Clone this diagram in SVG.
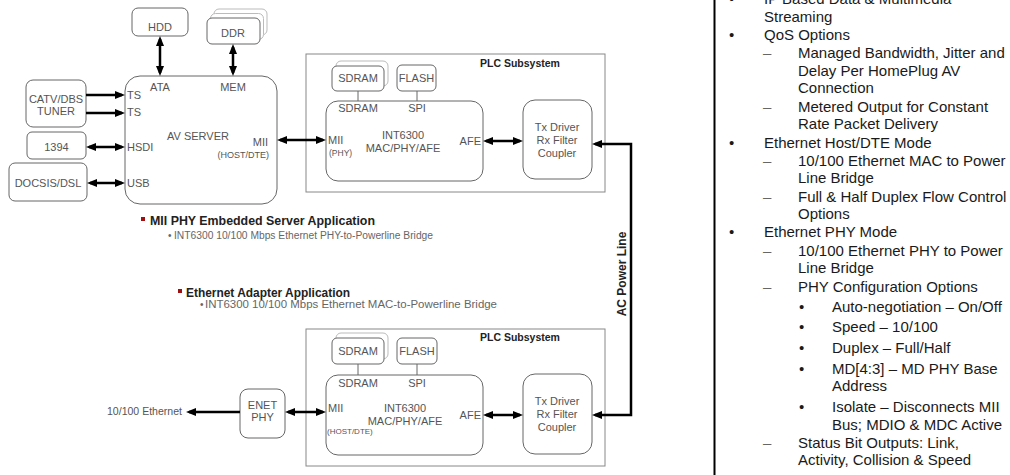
<svg xmlns="http://www.w3.org/2000/svg" width="1010" height="475" viewBox="0 0 1010 475">
<defs>
<style>
.bx{fill:#fff;stroke:#666;stroke-width:1}
.bk{fill:#fff;stroke:#bbb;stroke-width:1}
.plc{fill:#fff;stroke:#888;stroke-width:1}
.t{font-family:"Liberation Sans",Arial,sans-serif;font-size:11px;fill:#555}
.c{text-anchor:middle}
.e{text-anchor:end}
.s{font-size:8.5px}
.b{font-weight:bold;fill:#222}
.h{font-family:"Liberation Sans",Arial,sans-serif;font-size:12px;font-weight:bold;fill:#222}
.sub{font-family:"Liberation Sans",Arial,sans-serif;font-size:10px;fill:#666}
.r{font-family:"Liberation Sans",Arial,sans-serif;font-size:15px;fill:#1a1a1a}
.d{fill:#666}
.ln{fill:none;stroke:#000;stroke-width:2.5}
</style>
<marker id="ah" viewBox="0 0 10 8" refX="7" refY="4" markerWidth="10" markerHeight="8" markerUnits="userSpaceOnUse" orient="auto-start-reverse"><path d="M0,0 L10,4 L0,8 z" fill="#000"/></marker>
</defs>
<rect width="1010" height="475" fill="#fff"/>

<g id="hdd"><rect class="bx" x="132" y="8" width="56" height="28" rx="6"/><text class="t c" x="160" y="31">HDD</text></g>
<g id="ddr">
<rect class="bk" x="214" y="9" width="53" height="26" rx="5"/>
<rect class="bk" x="210.5" y="13.5" width="53" height="26" rx="5"/>
<rect class="bx" x="207" y="18" width="53" height="26" rx="5"/><text class="t c" x="233" y="37">DDR</text></g>
<g id="tuner"><rect class="bx" x="26" y="80" width="60" height="47" rx="7"/><text class="t c" x="56" y="103">CATV/DBS</text><text class="t c" x="56" y="115">TUNER</text></g>
<g id="n1394"><rect class="bx" x="27" y="132" width="59" height="27" rx="5"/><text class="t c" x="56.5" y="151">1394</text></g>
<g id="docsis"><rect class="bx" x="9" y="163" width="78" height="38" rx="6"/><text class="t c" x="48" y="187">DOCSIS/DSL</text></g>
<g id="avserver"><rect class="bx" x="125" y="76" width="152" height="128" rx="15"/>
<text class="t c" x="160" y="91">ATA</text><text class="t c" x="233" y="91">MEM</text>
<text class="t" x="127" y="99">TS</text><text class="t" x="127" y="116">TS</text>
<text class="t" x="127" y="151">HSDI</text><text class="t" x="127" y="187">USB</text>
<text class="t c" x="198" y="140">AV SERVER</text>
<text class="t e" x="268" y="146">MII</text><text class="t e" x="269" y="158" style="font-size:9px">(HOST/DTE)</text></g>

<g id="plc-top"><rect class="plc" x="306" y="54" width="299" height="138"/>
<text class="t b c" x="520" y="67" style="font-size:10.5px">PLC Subsystem</text></g>
<g id="sdram-top"><rect class="bk" x="336" y="61" width="52" height="25" rx="5"/><rect class="bx" x="332" y="66" width="52" height="25" rx="5"/><text class="t c" x="358" y="82">SDRAM</text></g>
<g id="flash-top"><rect class="bx" x="397" y="65" width="39" height="26" rx="5"/><text class="t c" x="416.5" y="82">FLASH</text></g>
<g id="int-top"><rect class="bx" x="326" y="101" width="157" height="80" rx="12"/>
<text class="t c" x="358" y="112">SDRAM</text><text class="t c" x="417" y="112">SPI</text>
<text class="t" x="328" y="144">MII</text><text class="t s" x="329" y="156">(PHY)</text>
<text class="t c" x="403" y="139">INT6300</text><text class="t c" x="403" y="152">MAC/PHY/AFE</text>
<text class="t e" x="481" y="145">AFE</text></g>
<g id="tx-top"><rect class="bx" x="523" y="100" width="69" height="79" rx="12"/>
<text class="t c" x="557" y="131">Tx Driver</text><text class="t c" x="557" y="144">Rx Filter</text><text class="t c" x="557" y="157">Coupler</text></g>

<g id="plc-bot"><rect class="plc" x="306" y="329" width="299" height="137"/>
<text class="t b c" x="520" y="341" style="font-size:10.5px">PLC Subsystem</text></g>
<g id="sdram-bot"><rect class="bk" x="336" y="333" width="52" height="26" rx="5"/><rect class="bx" x="332" y="338" width="52" height="26" rx="5"/><text class="t c" x="358" y="355">SDRAM</text></g>
<g id="flash-bot"><rect class="bx" x="397" y="338" width="40" height="26" rx="5"/><text class="t c" x="417" y="355">FLASH</text></g>
<g id="int-bot"><rect class="bx" x="326" y="375" width="157" height="80" rx="12"/>
<text class="t c" x="358" y="387">SDRAM</text><text class="t c" x="417" y="387">SPI</text>
<text class="t" x="328" y="412">MII</text><text class="t" x="327" y="434" style="font-size:8px">(HOST/DTE)</text>
<text class="t c" x="405" y="412">INT6300</text><text class="t c" x="405" y="425">MAC/PHY/AFE</text>
<text class="t e" x="481" y="419">AFE</text></g>
<g id="tx-bot"><rect class="bx" x="523" y="374" width="69" height="80" rx="12"/>
<text class="t c" x="557" y="405">Tx Driver</text><text class="t c" x="557" y="418">Rx Filter</text><text class="t c" x="557" y="431">Coupler</text></g>
<g id="enet"><rect class="bx" x="240" y="389" width="45" height="49" rx="8"/><text class="t c" x="262.5" y="409">ENET</text><text class="t c" x="262.5" y="421">PHY</text></g>
<g id="ethernet"><text class="t" x="107" y="415" style="font-size:10.5px" textLength="75" lengthAdjust="spacingAndGlyphs">10/100 Ethernet</text></g>

<g id="connectors">
<line x1="358" y1="91" x2="358" y2="101" stroke="#666"/>
<line x1="417" y1="91" x2="417" y2="101" stroke="#666"/>
<line x1="358" y1="364" x2="358" y2="375" stroke="#666"/>
<line x1="417" y1="364" x2="417" y2="375" stroke="#666"/>
<path class="ln" d="M160,39 V73" marker-start="url(#ah)" marker-end="url(#ah)"/>
<path class="ln" d="M233,47 V73" marker-start="url(#ah)" marker-end="url(#ah)"/>
<path class="ln" d="M86,95 H122" marker-end="url(#ah)"/>
<path class="ln" d="M86,113 H122" marker-end="url(#ah)"/>
<path class="ln" d="M89,147 H122" marker-start="url(#ah)" marker-end="url(#ah)"/>
<path class="ln" d="M90,183 H122" marker-start="url(#ah)" marker-end="url(#ah)"/>
<path class="ln" d="M280,140 H323" marker-start="url(#ah)" marker-end="url(#ah)"/>
<path class="ln" d="M486,141 H520" marker-start="url(#ah)" marker-end="url(#ah)"/>
<path class="ln" d="M595,144 H631 V415 H595" marker-start="url(#ah)" marker-end="url(#ah)"/>
<path class="ln" d="M486,415 H520" marker-start="url(#ah)" marker-end="url(#ah)"/>
<path class="ln" d="M288,412 H323" marker-start="url(#ah)" marker-end="url(#ah)"/>
<path class="ln" d="M240,412 H189" marker-end="url(#ah)"/>
<text x="626" y="274" transform="rotate(-90 626 274)" text-anchor="middle" style="font-family:'Liberation Sans',Arial,sans-serif;font-size:12px;font-weight:bold;fill:#222">AC Power Line</text>
</g>

<g id="captions">
<rect x="141" y="217" width="4" height="4" fill="#a01010"/>
<text class="h" x="150" y="225" textLength="225" lengthAdjust="spacingAndGlyphs">MII PHY Embedded Server Application</text>
<text class="sub" x="168" y="239">•</text>
<text class="sub" x="174" y="239" textLength="259" lengthAdjust="spacingAndGlyphs">INT6300 10/100 Mbps Ethernet PHY-to-Powerline Bridge</text>
<rect x="178" y="289" width="4" height="4" fill="#a01010"/>
<text class="h" x="186" y="297" textLength="164" lengthAdjust="spacingAndGlyphs">Ethernet Adapter Application</text>
<text class="sub" x="200" y="308">•</text>
<text class="sub" x="205" y="308" textLength="292" lengthAdjust="spacingAndGlyphs">INT6300 10/100 Mbps Ethernet MAC-to-Powerline Bridge</text>
</g>

<g id="features">
<line x1="714.5" y1="0" x2="714.5" y2="475" stroke="#000" stroke-width="2"/>
<text class="r" x="729" y="4">•</text><text class="r" x="764" y="4">IP Based Data &amp; Multimedia</text>
<text class="r" x="764" y="22">Streaming</text>
<text class="r" x="729" y="40">•</text><text class="r" x="764" y="40">QoS Options</text>
<text class="r d" x="763" y="58">–</text><text class="r" x="798" y="58">Managed Bandwidth, Jitter and</text>
<text class="r" x="798" y="76">Delay Per HomePlug AV</text>
<text class="r" x="798" y="93">Connection</text>
<text class="r d" x="763" y="112">–</text><text class="r" x="798" y="112">Metered Output for Constant</text>
<text class="r" x="798" y="129">Rate Packet Delivery</text>
<text class="r" x="729" y="148">•</text><text class="r" x="764" y="148">Ethernet Host/DTE Mode</text>
<text class="r d" x="763" y="166">–</text><text class="r" x="798" y="166">10/100 Ethernet MAC to Power</text>
<text class="r" x="798" y="183">Line Bridge</text>
<text class="r d" x="763" y="202">–</text><text class="r" x="798" y="202">Full &amp; Half Duplex Flow Control</text>
<text class="r" x="798" y="219">Options</text>
<text class="r" x="729" y="237">•</text><text class="r" x="764" y="237">Ethernet PHY Mode</text>
<text class="r d" x="763" y="256">–</text><text class="r" x="798" y="256">10/100 Ethernet PHY to Power</text>
<text class="r" x="798" y="273">Line Bridge</text>
<text class="r d" x="763" y="292">–</text><text class="r" x="798" y="292">PHY Configuration Options</text>
<text class="r" x="799" y="312">•</text><text class="r" x="832" y="312">Auto-negotiation – On/Off</text>
<text class="r" x="799" y="332">•</text><text class="r" x="832" y="332">Speed – 10/100</text>
<text class="r" x="799" y="353">•</text><text class="r" x="832" y="353">Duplex – Full/Half</text>
<text class="r" x="799" y="374">•</text><text class="r" x="832" y="374">MD[4:3] – MD PHY Base</text>
<text class="r" x="832" y="391">Address</text>
<text class="r" x="799" y="412">•</text><text class="r" x="832" y="412">Isolate – Disconnects MII</text>
<text class="r" x="832" y="430">Bus; MDIO &amp; MDC Active</text>
<text class="r d" x="763" y="448">–</text><text class="r" x="798" y="448">Status Bit Outputs: Link,</text>
<text class="r" x="798" y="465">Activity, Collision &amp; Speed</text>
</g>
</svg>
